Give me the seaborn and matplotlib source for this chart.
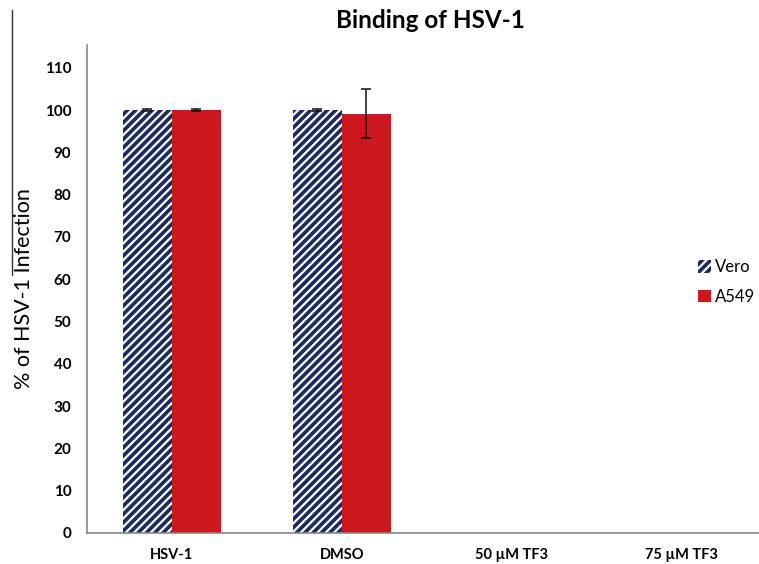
import pandas as pd
import matplotlib
matplotlib.use("Agg")
import matplotlib.pyplot as plt
import matplotlib.patches as mpatches
import seaborn as sns
import numpy as np

# data
categories = ["HSV-1", "DMSO", "50 \u00b5M TF3", "75 \u00b5M TF3"]
vero = [100.0, 100.0, np.nan, np.nan]
a549 = [100.0, 99.2, np.nan, np.nan]
vero_err = [0.15, 0.15, np.nan, np.nan]
a549_err = [0.15, 5.7, np.nan, np.nan]

navy = "#1c2a5e"
red = "#cc181c"

df = pd.DataFrame({
    "cat": categories * 2,
    "cell": ["Vero"] * 4 + ["A549"] * 4,
    "val": vero + a549,
})

sns.set_style("white")
plt.rcParams["font.family"] = ["Lato", "DejaVu Sans"]
plt.rcParams["text.color"] = "black"
plt.rcParams["axes.labelcolor"] = "black"
plt.rcParams["xtick.color"] = "black"
plt.rcParams["ytick.color"] = "black"
plt.rcParams["hatch.linewidth"] = 1.6

fig = plt.figure(figsize=(7.59, 5.64), dpi=100)
ax = fig.add_axes([86.7 / 759, 1 - 533 / 564, 1 - 86.7 / 759, (533 - 45) / 564])

sns.barplot(data=df, x="cat", y="val", hue="cell", order=categories,
            hue_order=["Vero", "A549"], palette=[navy, red], width=0.576,
            saturation=1, errorbar=None, linewidth=0, legend=False, ax=ax)

# hatch the Vero bars
for bar in ax.containers[0]:
    bar.set_hatch("////")
    bar.set_edgecolor("white")

# error bars
for cont, errs in zip(ax.containers, [vero_err, a549_err]):
    for bar, e in zip(cont, errs):
        h = bar.get_height()
        if np.isnan(h):
            continue
        xc = bar.get_x() + bar.get_width() / 2
        ax.errorbar(xc, h, yerr=e, color="#111111", capsize=3.5, elinewidth=1.1,
                    capthick=1.1, fmt="none")

ax.set_xlim(-0.5, (759 - 86.7) / 170 - 0.5)
ax.set_ylim(0, 115.4)
ax.set_yticks(range(0, 111, 10))
ax.set_xticks(range(len(categories)))
ax.set_xticks([0.5, 1.5, 2.5], minor=True)
ax.tick_params(axis="x", which="major", length=0, pad=11)
ax.tick_params(axis="x", which="minor", length=6, color="#888888", width=1, direction="out")
ax.tick_params(axis="y", length=5, color="#888888", width=1, direction="out", pad=6)
for lab in ax.get_xticklabels():
    lab.set_fontweight("bold")
    lab.set_fontsize(10.5)
for lab in ax.get_yticklabels():
    lab.set_fontweight("bold")
    lab.set_fontsize(11)
ax.set_xlabel("")
ax.set_ylabel("% of HSV-1 Infection", fontsize=15.5, labelpad=8)

sns.despine(ax=ax)
for s in ["left", "bottom"]:
    ax.spines[s].set_color("#888888")
    ax.spines[s].set_linewidth(1.2)

fig.text(0.567, 0.963, "Binding of HSV-1", ha="center", va="center",
         fontsize=17.5, fontweight="bold")

handles = [mpatches.Patch(facecolor=navy, edgecolor="white", hatch="////", linewidth=0, label="Vero"),
           mpatches.Patch(facecolor=red, linewidth=0, label="A549")]
fig.legend(handles=handles, loc="center left", bbox_to_anchor=(0.9, 1 - 282 / 564),
           frameon=False, fontsize=12, handlelength=0.8, handleheight=0.8,
           handletextpad=0.2, labelspacing=0.8)

# stray rule in the left margin
fig.add_artist(plt.Line2D([12 / 759, 12 / 759], [1 - 10 / 564, 1 - 275 / 564],
                          color="#333333", linewidth=1))

fig.savefig("out.png", dpi=100)
